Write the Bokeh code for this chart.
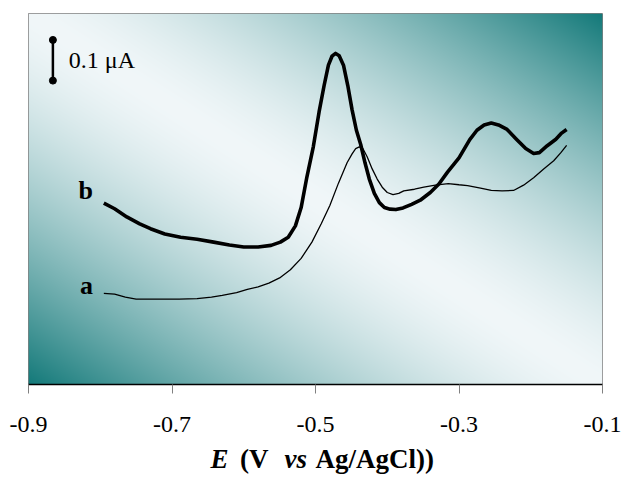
import numpy as np
from bokeh.plotting import figure
from bokeh.layouts import column
from bokeh.models import Range1d, FixedTicker, Label
from bokeh.embed import file_html
from bokeh.resources import INLINE
from bokeh.core.properties import value

# ---------------- data ----------------
x_ticks = [-0.9, -0.7, -0.5, -0.3, -0.1]
x_tick_labels = ["-0.9", "-0.7", "-0.5", "-0.3", "-0.1"]

# curve a (thin)
a_x = [-0.795, -0.780, -0.765, -0.750, -0.720, -0.690, -0.665, -0.645, -0.630, -0.610,
       -0.595, -0.580, -0.565, -0.550, -0.535, -0.520, -0.505, -0.492, -0.480, -0.468,
       -0.456, -0.449, -0.444, -0.439, -0.434, -0.428, -0.421, -0.414, -0.407, -0.400,
       -0.392, -0.384, -0.377, -0.362, -0.349, -0.333, -0.315, -0.300, -0.288, -0.270,
       -0.255, -0.240, -0.224, -0.210, -0.196, -0.182, -0.168, -0.158, -0.150]
a_y = [0.224, 0.222, 0.215, 0.210, 0.210, 0.210, 0.211, 0.215, 0.219, 0.226,
       0.234, 0.240, 0.249, 0.262, 0.282, 0.310, 0.350, 0.395, 0.440, 0.495,
       0.545, 0.567, 0.580, 0.584, 0.580, 0.560, 0.530, 0.505, 0.485, 0.472,
       0.467, 0.470, 0.476, 0.480, 0.485, 0.490, 0.494, 0.491, 0.489, 0.483,
       0.477, 0.476, 0.477, 0.490, 0.508, 0.530, 0.550, 0.570, 0.588]

# curve b (thick)
b_x = [-0.795, -0.780, -0.763, -0.745, -0.730, -0.710, -0.688, -0.665, -0.642, -0.620,
       -0.600, -0.580, -0.562, -0.549, -0.538, -0.528, -0.520, -0.512, -0.503, -0.495,
       -0.488, -0.482, -0.477, -0.472, -0.467, -0.461, -0.455, -0.449, -0.443, -0.437,
       -0.431, -0.425, -0.418, -0.411, -0.404, -0.396, -0.388, -0.378, -0.366, -0.354,
       -0.340, -0.328, -0.316, -0.300, -0.285, -0.275, -0.265, -0.255, -0.245, -0.233,
       -0.220, -0.207, -0.196, -0.188, -0.177, -0.165, -0.157, -0.150]
b_y = [0.446, 0.432, 0.412, 0.395, 0.383, 0.370, 0.362, 0.357, 0.350, 0.343,
       0.338, 0.338, 0.342, 0.350, 0.362, 0.390, 0.435, 0.510, 0.585, 0.670,
       0.735, 0.785, 0.807, 0.814, 0.808, 0.785, 0.735, 0.675, 0.625, 0.590,
       0.545, 0.505, 0.470, 0.447, 0.435, 0.431, 0.430, 0.434, 0.443, 0.453,
       0.472, 0.493, 0.522, 0.557, 0.602, 0.625, 0.638, 0.643, 0.638, 0.627,
       0.603, 0.580, 0.568, 0.570, 0.587, 0.603, 0.618, 0.627]

curve_names = ["a", "b"]

# scale bar: 0.1 uA
scale_bar_x = [-0.866, -0.866]
scale_bar_y = [0.747, 0.847]
scale_bar_text = "0.1 μA"

# axis title pieces (text, style)
title_texts = ["E", "(V", "vs", "Ag/AgCl))"]
title_styles = ["bold italic", "bold", "bold italic", "bold"]

X0, X1 = -0.9, -0.1
Y0, Y1 = 0.0, 0.912

SERIF = "Liberation Serif"

p = figure(width=621, height=444, title=None,
           x_range=Range1d(X0, X1), y_range=Range1d(Y0, Y1),
           output_backend="svg", toolbar_location=None,
           y_axis_location=None,
           min_border_left=28, min_border_right=19,
           min_border_top=13, min_border_bottom=60)

p.background_fill_color = "white"
p.border_fill_color = "white"
p.outline_line_color = "#808080"
p.outline_line_width = 1
p.xgrid.visible = False
p.ygrid.visible = False

# ---- gradient background (style) ----
H, W = 371, 574
ny = np.linspace(0, 1, H)[:, None]
nx = np.linspace(0, 1, W)[None, :]
d = np.abs(nx + ny - 1.0)
f = np.clip(d ** 1.5, 0, 1)
teal = np.array([20, 122, 122], dtype=float)
light = np.array([241, 247, 249], dtype=float)
rgb = light[None, None, :] + (teal - light)[None, None, :] * f[..., None]
img = np.empty((H, W), dtype=np.uint32)
view = img.view(dtype=np.uint8).reshape((H, W, 4))
view[..., :3] = np.clip(rgb, 0, 255).astype(np.uint8)
view[..., 3] = 255
p.image_rgba(image=[img], x=X0, y=Y0, dw=X1 - X0, dh=Y1 - Y0)

# ---- curves ----
p.line(a_x, a_y, line_color="black", line_width=1.3)
p.line(b_x, b_y, line_color="black", line_width=3.6, line_join="round")

# ---- scale bar ----
p.line(scale_bar_x, scale_bar_y, line_color="black", line_width=2.5)
p.scatter(scale_bar_x, scale_bar_y, size=7, color="black")
p.add_layout(Label(x=scale_bar_x[0] + 0.0222, y=sum(scale_bar_y) / 2, text=scale_bar_text,
                   text_font=SERIF, text_font_size="24px", text_baseline="middle",
                   text_color="black"))

# ---- curve labels ----
p.add_layout(Label(x=-0.81, y=0.441, text=curve_names[1], text_align="right",
                   text_font=SERIF, text_font_size="26px", text_font_style="bold",
                   text_color="black"))
p.add_layout(Label(x=-0.81, y=0.208, text=curve_names[0], text_align="right",
                   text_font=SERIF, text_font_size="26px", text_font_style="bold",
                   text_color="black"))

# ---- x axis ----
ax = p.xaxis[0]
ax.ticker = FixedTicker(ticks=x_ticks)
ax.major_label_overrides = dict(zip(x_ticks, x_tick_labels))
ax.major_label_text_font = SERIF
ax.major_label_text_font_size = "24px"
ax.major_label_text_color = "black"
ax.major_label_standoff = 23
ax.major_tick_out = 9
ax.major_tick_in = 0
ax.major_tick_line_color = "#808080"
ax.minor_tick_line_color = None
ax.axis_line_color = "black"
ax.axis_line_width = 1.5

# ---- axis title (mixed styles) in a strip below, sharing the x range ----
t = figure(width=621, height=35, title=None, x_range=p.x_range, y_range=Range1d(0, 35),
           output_backend="svg", toolbar_location=None,
           x_axis_location=None, y_axis_location=None,
           min_border_left=28, min_border_right=19, min_border_top=0, min_border_bottom=0)
t.outline_line_color = None
t.xgrid.visible = False
t.ygrid.visible = False
title_x = [-0.6463, -0.6052, -0.5432, -0.5000]
for txt, style, sx in zip(title_texts, title_styles, title_x):
    t.text(x=[sx], y=[21], text=[txt], text_font=value(SERIF), text_font_size="27px",
           text_font_style=style, text_baseline="alphabetic", text_align="left",
           text_color="black")

layout = column(p, t, spacing=0)
open("out.html", "w").write(file_html(layout, INLINE))
